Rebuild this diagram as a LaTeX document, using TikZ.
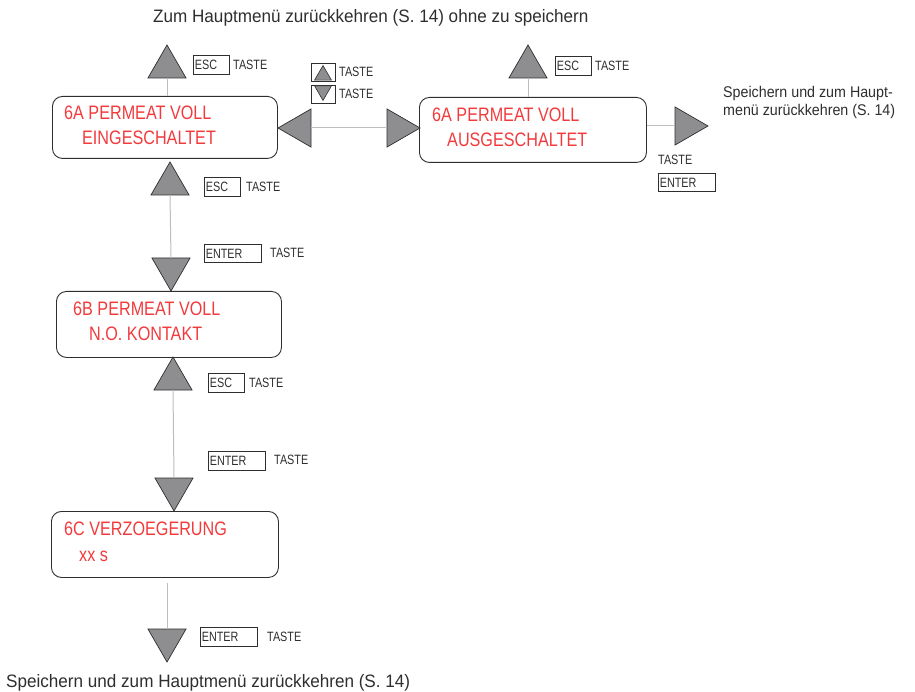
\documentclass[tikz,border=0pt]{standalone}
\usepackage{fontspec}
\setmainfont{Liberation Sans}[FakeStretch=0.95]
\newfontfamily\sidefont{Liberation Sans}[FakeStretch=0.92]
\newfontfamily\lcdfont{Liberation Sans}[FakeStretch=0.83]
\newfontfamily\keyfont{Liberation Sans}[FakeStretch=0.8]
\usetikzlibrary{shapes.geometric}
\definecolor{lcdred}{HTML}{F23A3C}
\definecolor{trifill}{HTML}{8E8E91}
\definecolor{wire}{HTML}{BDBDBD}
\definecolor{ink}{HTML}{2E2E2E}
\tikzset{
  screen/.style={draw=ink, line width=0.9pt, rounded corners=10pt, inner sep=0pt, anchor=north west},
  lcd/.style={text=lcdred, font=\lcdfont\fontsize{19.5}{22}\selectfont, inner sep=0pt, anchor=base west},
  note/.style={text=ink, font=\fontsize{18}{20}\selectfont, inner sep=0pt, anchor=base west},
  sidenote/.style={text=ink, font=\sidefont\fontsize{15.5}{18}\selectfont, inner sep=0pt, anchor=base west},
  tri/.style={regular polygon, regular polygon sides=3, minimum size=44pt, inner sep=0pt, outer sep=0pt,
              fill=trifill, draw=ink, line width=0.7pt, anchor=corner 1},
  triup/.style={tri},
  tridown/.style={tri, regular polygon rotate=180},
  trileft/.style={tri, regular polygon rotate=90},
  triright/.style={tri, regular polygon rotate=-90},
  icontri/.style={tri, minimum size=19.5pt, line width=0.6pt},
  key/.style={draw=ink, line width=0.7pt, anchor=north west, inner xsep=1.5pt, inner ysep=0pt,
              align=left, font=\keyfont\fontsize{13.5}{15}\selectfont, text=ink},
  esckey/.style={key, text width=33pt, minimum height=19pt},
  enterkey/.style={key, text width=54pt, minimum height=18.5pt},
  iconkey/.style={draw=ink, line width=0.7pt, anchor=north west, minimum width=24pt, minimum height=18pt, inner sep=0pt},
  taste/.style={font=\keyfont\fontsize{13.5}{15}\selectfont, text=ink, inner sep=0pt, anchor=west},
  wireline/.style={draw=wire, line width=1pt}
}
\begin{document}
\begin{tikzpicture}[x=1pt,y=-1pt]
\useasboundingbox (0,0) rectangle (915,692);

% headline and footline
\node[note] (head) at (153,23) {Zum Hauptmenü zurückkehren (S. 14) ohne zu speichern};
\node[note] (foot) at (6,687) {Speichern und zum Hauptmenü zurückkehren (S. 14)};

% display screens
\node[screen, minimum width=225pt, minimum height=62pt] (A1) at (52,96) {};
\node[lcd] (A1a) at (64,120) {6A PERMEAT VOLL};
\node[lcd] (A1b) at (82,145) {EINGESCHALTET};

\node[screen, minimum width=227pt, minimum height=65pt] (A2) at (419,97) {};
\node[lcd] (A2a) at (432,122) {6A PERMEAT VOLL};
\node[lcd] (A2b) at (447,147) {AUSGESCHALTET};

\node[screen, minimum width=225pt, minimum height=66pt] (B) at (56,291) {};
\node[lcd] (Ba) at (73,316) {6B PERMEAT VOLL};
\node[lcd] (Bb) at (89,341) {N.O. KONTAKT};

\node[screen, minimum width=227pt, minimum height=66pt] (C) at (51,511) {};
\node[lcd] (Ca) at (64,535) {6C VERZOEGERUNG};
\node[lcd] (Cb) at (79,561) {xx s};

% arrow triangles
\node[triup] (tA1) at (167,45) {};
\node[triup] (tA2) at (528,45) {};
\node[trileft] (tL) at (278,128) {};
\node[triright] (tR) at (420,128) {};
\node[triright] (tX) at (708,126) {};
\node[triup] (tU1) at (170,162) {};
\node[tridown] (tD1) at (171,291) {};
\node[triup] (tU2) at (173,357) {};
\node[tridown] (tD2) at (174,511) {};
\node[tridown] (tD3) at (167,662) {};

% connectors
\draw[wireline] (tA1.south) -- (tA1.south |- A1.north);
\draw[wireline] (tA2.south) -- (tA2.south |- A2.north);
\draw[wireline] (tL.east) -- (tR.west);
\draw[wireline] (A2.east |- tX.west) -- (tX.west);
\draw[wireline] (tU1.south) -- (tD1.north);
\draw[wireline] (tU2.south) -- (tD2.north);
\draw[wireline, shorten <=5pt] (tD3.north |- C.south) -- (tD3.north);

% keys
\node[esckey] (k1) at (193,55) {ESC};
\node[taste] (k1t) at (233,64.5) {TASTE};
\node[esckey] (k2) at (555,56) {ESC};
\node[taste] (k2t) at (595,65.5) {TASTE};

\node[iconkey] (kup) at (311,63) {};
\node[icontri] (kupt) at (323,65.5) {};
\node[taste] (kupl) at (339,72) {TASTE};
\node[iconkey] (kdn) at (311,85) {};
\node[icontri, regular polygon rotate=180] (kdnt) at (323,100.5) {};
\node[taste] (kdnl) at (339,94) {TASTE};

\node[taste] (kxt) at (658,160) {TASTE};
\node[enterkey] (kx) at (658,173) {ENTER};

\node[esckey] (k3) at (204,177) {ESC};
\node[taste] (k3t) at (246,186.5) {TASTE};
\node[enterkey] (k4) at (204,244) {ENTER};
\node[taste] (k4t) at (270,253) {TASTE};

\node[esckey] (k5) at (208,373) {ESC};
\node[taste] (k5t) at (249,382.5) {TASTE};
\node[enterkey] (k6) at (208,451) {ENTER};
\node[taste] (k6t) at (274,460) {TASTE};

\node[enterkey] (k7) at (200,627) {ENTER};
\node[taste] (k7t) at (267,636.5) {TASTE};

% side note on saving
\node[sidenote] (R1) at (723,98) {Speichern und zum Haupt-};
\node[sidenote] (R2) at (723,116) {menü zurückkehren (S. 14)};
\end{tikzpicture}
\end{document}
